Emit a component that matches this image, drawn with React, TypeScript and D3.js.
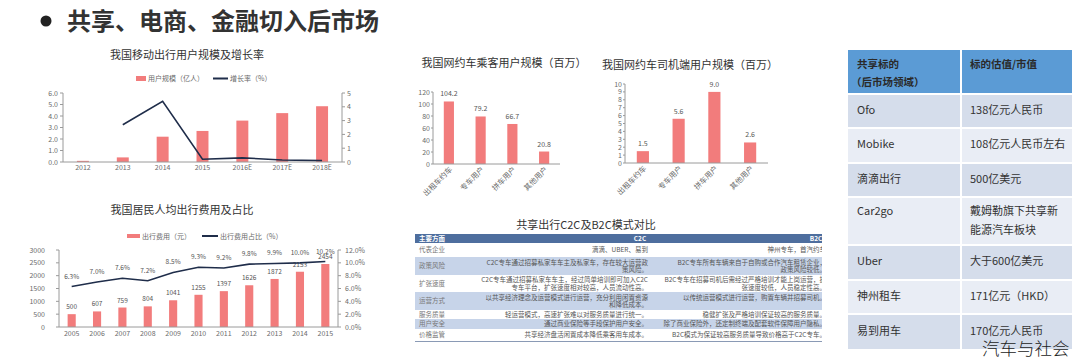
import React from 'react';
import * as d3 from 'd3';

const FONT = '"Noto Sans CJK SC", "Noto Sans", sans-serif';
const BAR = '#f27c7c';
const NAVY = '#1f2d4a';
const AX = '#9a9a9a';
const TXT = '#6a6a6a';

// Chart 1: 我国移动出行用户规模及增长率
const years1 = ['2012', '2013', '2014', '2015', '2016E', '2017E', '2018E'];
const users1 = [0.1, 0.4, 2.2, 2.7, 3.6, 4.25, 4.85];
const growth1: (number | null)[] = [null, 2.7, 4.4, 0.2, 0.3, 0.15, 0.1];
const ticksL1 = [0, 1, 2, 3, 4, 5, 6];
const ticksR1 = [0, 1, 2, 3, 4, 5];

// Chart 2: 我国居民人均出行费用及占比
const years2 = ['2005', '2006', '2007', '2008', '2009', '2010', '2011', '2012', '2013', '2014', '2015'];
const cost2 = [500, 607, 759, 804, 1041, 1255, 1397, 1626, 1872, 2153, 2454];
const share2 = [6.3, 7.0, 7.6, 7.2, 8.5, 9.3, 9.2, 9.8, 9.9, 10.0, 10.2];
const ticksL2 = [0, 500, 1000, 1500, 2000, 2500, 3000];
const ticksR2 = [0, 2, 4, 6, 8, 10, 12];

// Chart 3 / 4
const cats34 = ['出租车约车', '专车用户', '拼车用户', '其他用户'];
const riders3 = [104.2, 79.2, 66.7, 20.8];
const ticks3 = [0, 20, 40, 60, 80, 100, 120];
const drivers4 = [1.5, 5.6, 9.0, 2.6];
const ticks4 = [0, 1, 2, 3, 4, 5, 6, 7, 8, 9, 10];

// Table C2C vs B2C
const cmpHeader = ['主要方面', 'C2C', 'B2C'];
const cmpAspects = ['代表企业', '政策风险', '扩张速度', '运营方式', '服务质量', '用户安全', '价格监管'];
const cmpC2C = [
  ['滴滴、UBER、易到'],
  ['C2C专车通过招募私家车车主及私家车，存在较大运营政', '策风险。'],
  ['C2C专车通过招募私家车车主，经过简单培训即可加入C2C', '专车平台，扩张速度相对较高，人员流动性高。'],
  ['以共享经济理念及运营模式进行运营，充分利用闲置资源', '和降低成本。'],
  ['轻运营模式，高速扩张难以对服务质量进行统一。'],
  ['通过商业保险等手段保护用户安全。'],
  ['共享经济盘活闲置成本降低乘客用车成本。'],
];
const cmpB2C = [
  ['神州专车，首汽约车'],
  ['B2C专车所有车辆来自于自购或合作汽车租赁企业，', '政策风险较低。'],
  ['B2C专车在招募司机后需经过严格培训才能上岗运营，扩', '张速度较低，人员稳定性高。'],
  ['以传统运营模式进行运营，购置车辆并招募司机。'],
  ['稳健扩张及严格培训保证较高的服务质量。'],
  ['除了商业保险外，还定制终端及配套软件保障用户隐私。'],
  ['B2C模式为保证较高服务质量导致价格高于C2C专车。'],
];
const cmpRowH = [14, 18, 17, 18, 9, 10, 12];

// Right table
const valHeader = [['共享标的', '（后市场领域）'], ['标的估值/市值']];
const valNames = ['Ofo', 'Mobike', '滴滴出行', 'Car2go', 'Uber', '神州租车', '易到用车'];
const valValues = [
  ['138亿元人民币'],
  ['108亿元人民币左右'],
  ['500亿美元'],
  ['戴姆勒旗下共享新', '能源汽车板块'],
  ['大于600亿美元'],
  ['171亿元（HKD）'],
  ['170亿元人民币'],
];
const valRowH = [32, 33, 32, 46, 33, 32, 34];

function Chart1() {
  const x = d3.scaleBand().domain(years1).range([63, 342]).paddingInner(0.7).paddingOuter(0.35);
  const yL = d3.scaleLinear().domain([0, 6]).range([162, 93]);
  const yR = d3.scaleLinear().domain([0, 5]).range([162, 93]);
  const pts = years1.map((y, i) => ({ y, v: growth1[i] })).filter(d => d.v !== null) as { y: string; v: number }[];
  const line = d3.line<{ y: string; v: number }>().x(d => (x(d.y) as number) + x.bandwidth() / 2).y(d => yR(d.v));
  return (
    <g fontFamily={FONT}>
      <text x={187} y={59} textAnchor="middle" fontSize={11} fill="#333">我国移动出行用户规模及增长率</text>
      <rect x={136} y={76} width={10} height={5} fill={BAR} />
      <text x={148} y={81} fontSize={7} fill={TXT}>用户规模（亿人）</text>
      <line x1={213} x2={228} y1={78.5} y2={78.5} stroke={NAVY} strokeWidth={2} />
      <text x={230} y={81} fontSize={7} fill={TXT}>增长率（%）</text>
      {users1.map((v, i) => (
        <rect key={i} x={x(years1[i])} y={yL(v)} width={x.bandwidth()} height={162 - yL(v)} fill={BAR} />
      ))}
      <path d={line(pts) || ''} fill="none" stroke={NAVY} strokeWidth={1.6} />
      <line x1={63} x2={63} y1={93} y2={162} stroke={AX} />
      <line x1={342} x2={342} y1={93} y2={162} stroke={AX} />
      <line x1={63} x2={342} y1={162} y2={162} stroke={AX} />
      {ticksL1.map(t => (
        <g key={t}>
          <line x1={60} x2={63} y1={yL(t)} y2={yL(t)} stroke={AX} />
          <text x={58} y={yL(t) + 2.5} textAnchor="end" fontSize={7} fill={TXT}>{d3.format('.1f')(t)}</text>
        </g>
      ))}
      {ticksR1.map(t => (
        <g key={t}>
          <line x1={342} x2={345} y1={yR(t)} y2={yR(t)} stroke={AX} />
          <text x={347} y={yR(t) + 2.5} fontSize={7} fill={TXT}>{t}</text>
        </g>
      ))}
      {years1.map(y => (
        <text key={y} x={(x(y) as number) + x.bandwidth() / 2} y={170} textAnchor="middle" fontSize={7} fill={TXT}>{y}</text>
      ))}
    </g>
  );
}

function Chart2() {
  const x = d3.scaleBand().domain(years2).range([59, 338]).paddingInner(0.68).paddingOuter(0.34);
  const yL = d3.scaleLinear().domain([0, 3000]).range([327, 250]);
  const yR = d3.scaleLinear().domain([0, 12]).range([327, 250]);
  const cx = (y: string) => (x(y) as number) + x.bandwidth() / 2;
  const line = d3.line<number>().x((_, i) => cx(years2[i])).y(d => yR(d));
  return (
    <g fontFamily={FONT}>
      <text x={182} y={214} textAnchor="middle" fontSize={11} fill="#333">我国居民人均出行费用及占比</text>
      <rect x={127} y={234} width={13} height={4} fill={BAR} />
      <text x={142} y={239} fontSize={7} fill={TXT}>出行费用（元）</text>
      <line x1={202} x2={218} y1={236} y2={236} stroke={NAVY} strokeWidth={2} />
      <text x={220} y={239} fontSize={7} fill={TXT}>出行费用占比（%）</text>
      {cost2.map((v, i) => (
        <g key={i}>
          <rect x={x(years2[i])} y={yL(v)} width={x.bandwidth()} height={327 - yL(v)} fill={BAR} />
          <text x={cx(years2[i])} y={yL(v) - 5} textAnchor="middle" fontSize={6.5} fill="#555">{v}</text>
        </g>
      ))}
      <path d={line(share2) || ''} fill="none" stroke={NAVY} strokeWidth={1.6} />
      {share2.map((v, i) => (
        <text key={i} x={cx(years2[i])} y={yR(v) - 8} textAnchor="middle" fontSize={6.5} fill="#555">{d3.format('.1f')(v)}%</text>
      ))}
      <line x1={59} x2={59} y1={250} y2={327} stroke={AX} />
      <line x1={338} x2={338} y1={250} y2={327} stroke={AX} />
      <line x1={59} x2={338} y1={327} y2={327} stroke={AX} />
      {ticksL2.map(t => (
        <g key={t}>
          <line x1={56} x2={59} y1={yL(t)} y2={yL(t)} stroke={AX} />
          <text x={45} y={yL(t) + 2.5} textAnchor="end" fontSize={7} fill={TXT}>{t}</text>
        </g>
      ))}
      {ticksR2.map(t => (
        <g key={t}>
          <line x1={338} x2={341} y1={yR(t)} y2={yR(t)} stroke={AX} />
          <text x={345} y={yR(t) + 2.5} fontSize={7} fill={TXT}>{d3.format('.1f')(t)}%</text>
        </g>
      ))}
      {years2.map(y => (
        <text key={y} x={cx(y)} y={336} textAnchor="middle" fontSize={7} fill={TXT}>{y}</text>
      ))}
    </g>
  );
}

function SmallBar(props: {
  title: string; tx: number; ty: number; values: number[]; ticks: number[]; max: number;
  x0: number; x1: number; y0: number; y1: number; pad: number; fmt: (v: number) => string;
}) {
  const { title, tx, ty, values, ticks, max, x0, x1, y0, y1, pad, fmt } = props;
  const x = d3.scaleBand().domain(cats34).range([x0, x1]).paddingInner(pad).paddingOuter(pad / 2);
  const y = d3.scaleLinear().domain([0, max]).range([y0, y1]);
  const cx = (c: string) => (x(c) as number) + x.bandwidth() / 2;
  return (
    <g fontFamily={FONT}>
      <text x={tx} y={ty} textAnchor="middle" fontSize={11} fill="#333">{title}</text>
      {values.map((v, i) => (
        <g key={i}>
          <rect x={x(cats34[i])} y={y(v)} width={x.bandwidth()} height={y0 - y(v)} fill={BAR} />
          <text x={cx(cats34[i])} y={y(v) - 5} textAnchor="middle" fontSize={7} fill="#555">{fmt(v)}</text>
        </g>
      ))}
      <line x1={x0} x2={x0} y1={y1} y2={y0} stroke={AX} />
      <line x1={x0} x2={x1} y1={y0} y2={y0} stroke={AX} />
      {ticks.map(t => (
        <g key={t}>
          <line x1={x0 - 2} x2={x0} y1={y(t)} y2={y(t)} stroke={AX} />
          <text x={x0 - 3} y={y(t) + 2.5} textAnchor="end" fontSize={7} fill={TXT}>{t}</text>
        </g>
      ))}
      {cats34.map(c => (
        <text key={c} transform={`translate(${cx(c) + 4},${y0 + 6}) rotate(-45)`} textAnchor="end" fontSize={7.5} fill={TXT}>{c}</text>
      ))}
    </g>
  );
}

function CmpTable() {
  const left = 415, right = 822, c1 = 648, c2 = 826;
  let yy = 243;
  const rows = cmpAspects.map((a, i) => {
    const top = yy;
    yy += cmpRowH[i];
    return { a, top, h: cmpRowH[i], i };
  });
  return (
    <g fontFamily={FONT}>
      <defs>
        <clipPath id="cmpClip"><rect x={left} y={230} width={right - left} height={120} /></clipPath>
      </defs>
      <text x={586} y={229} textAnchor="middle" fontSize={11} fill="#333">共享出行C2C及B2C模式对比</text>
      <g clipPath="url(#cmpClip)">
        <rect x={left} y={234} width={right - left} height={9} fill="#4e6e9e" />
        <text x={419} y={241} fontSize={6.5} fontWeight="bold" fill="#fff">{cmpHeader[0]}</text>
        <text x={640} y={241} textAnchor="middle" fontSize={6.5} fontWeight="bold" fill="#fff">{cmpHeader[1]}</text>
        <text x={816} y={241} textAnchor="middle" fontSize={6.5} fontWeight="bold" fill="#fff">{cmpHeader[2]}</text>
        {rows.map(r => {
          const lines1 = cmpC2C[r.i];
          const lines2 = cmpB2C[r.i];
          const n = Math.max(lines1.length, lines2.length);
          const base = r.top + r.h / 2 - (n - 1) * 3.8 + 2.3;
          return (
            <g key={r.a}>
              <rect x={left} y={r.top} width={right - left} height={r.h} fill={r.i % 2 === 1 ? '#c7d4e9' : '#ffffff'} />
              <text x={419} y={r.top + r.h / 2 + 2.3} fontSize={6.5} fill="#777">{r.a}</text>
              {lines1.map((l, k) => (
                <text key={k} x={c1} y={base + k * 7.6} textAnchor="end" fontSize={6.5} fill="#555">{l}</text>
              ))}
              {lines2.map((l, k) => (
                <text key={k} x={c2} y={base + k * 7.6} textAnchor="end" fontSize={6.5} fill="#555">{l}</text>
              ))}
            </g>
          );
        })}
        <line x1={left} x2={right} y1={yy + 0.5} y2={yy + 0.5} stroke="#8a9ab5" />
      </g>
    </g>
  );
}

function ValTable() {
  const lx = 848, mx = 960, rx = 1072;
  let yy = 95;
  const rows = valNames.map((n, i) => {
    const top = yy;
    yy += valRowH[i] + 2;
    return { n, top, h: valRowH[i], i };
  });
  return (
    <g fontFamily={FONT}>
      <rect x={lx} y={50} width={mx - lx} height={43} fill="#5b9bd5" />
      <rect x={mx + 2} y={50} width={rx - mx - 2} height={43} fill="#5b9bd5" />
      <text x={857} y={68} fontSize={10.5} fontWeight="bold" fill="#2a2a2a">{valHeader[0][0]}</text>
      <text x={851} y={86} fontSize={10.5} fontWeight="bold" fill="#2a2a2a">{valHeader[0][1]}</text>
      <text x={970} y={68} fontSize={10.5} fontWeight="bold" fill="#2a2a2a">{valHeader[1][0]}</text>
      {rows.map(r => {
        const fill = r.i % 2 === 0 ? '#d5ddeb' : '#e9edf5';
        const vals = valValues[r.i];
        const by = vals.length > 1 ? r.top + 17 : r.top + r.h / 2 + 2.5;
        return (
          <g key={r.n}>
            <rect x={lx} y={r.top} width={mx - lx} height={r.h} fill={fill} />
            <rect x={mx + 2} y={r.top} width={rx - mx - 2} height={r.h} fill={fill} />
            <text x={857} y={by} fontSize={11} fill="#333">{r.n}</text>
            {vals.map((v, k) => (
              <text key={k} x={970} y={by + k * 19} fontSize={11} fill="#333">{v}</text>
            ))}
          </g>
        );
      })}
    </g>
  );
}

export default function App() {
  return (
    <svg width={1084} height={362} style={{ position: 'absolute', left: 0, top: 0, background: '#fff' }}>
      <rect width={1084} height={362} fill="#fff" />
      <circle cx={46} cy={21} r={5.5} fill="#222" />
      <text x={67} y={30} fontFamily={FONT} fontSize={24} fontWeight="bold" fill="#333">共享、电商、金融切入后市场</text>
      <Chart1 />
      <Chart2 />
      <SmallBar title="我国网约车乘客用户规模（百万）" tx={504} ty={67} values={riders3} ticks={ticks3} max={120}
        x0={433} x1={560} y0={164} y1={92} pad={0.68} fmt={v => d3.format('.1f')(v)} />
      <SmallBar title="我国网约车司机端用户规模（百万）" tx={690} ty={69} values={drivers4} ticks={ticks4} max={10}
        x0={625} x1={768} y0={163} y1={84} pad={0.66} fmt={v => d3.format('.1f')(v)} />
      <CmpTable />
      <ValTable />
      <text x={982} y={355} fontFamily={FONT} fontSize={17.5} fontWeight={300} fill="#222">汽车与社会</text>
    </svg>
  );
}
